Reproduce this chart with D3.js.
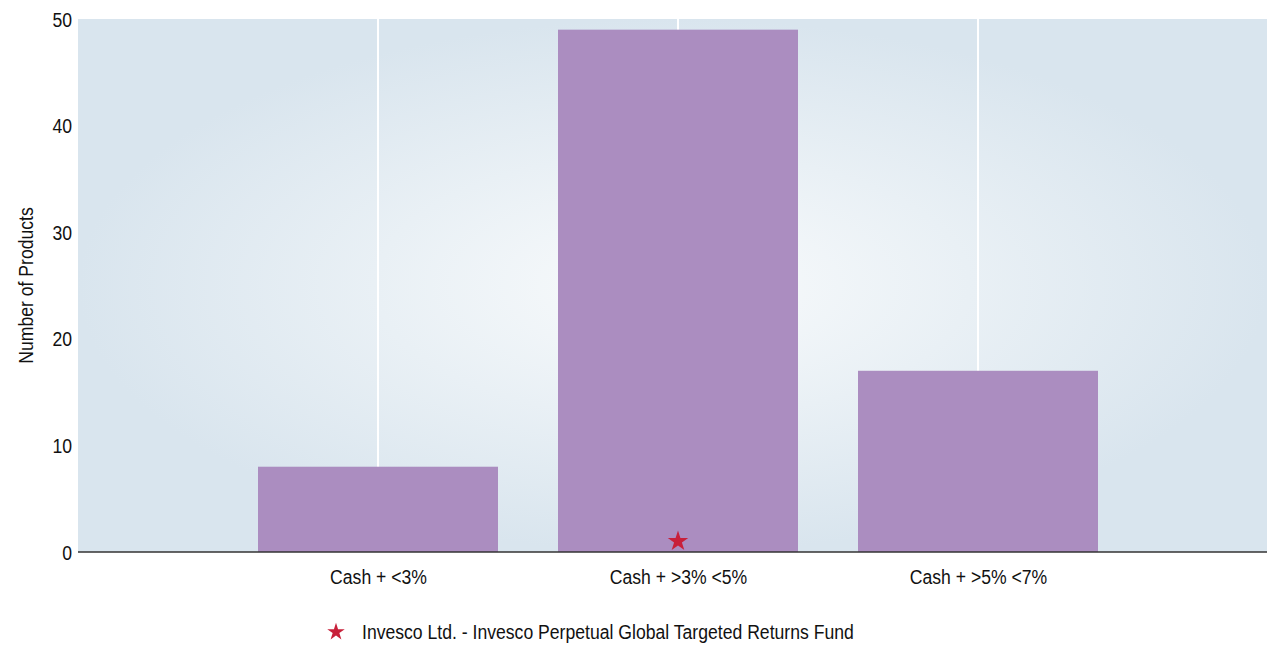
<!DOCTYPE html>
<html lang="en">
<head>
    <meta charset="utf-8">
    <script src="https://cdn.jsdelivr.net/npm/d3@7"></script>
    <style>
        body { margin: 0; background: white; }
        text {
            font-family: "Liberation Sans Narrow", "Arial Narrow", "Liberation Sans", sans-serif;
            fill: #111;
        }
        .tick text { font-size: 20px; }
        .axis-title { font-size: 20px; }
        .legend text { font-size: 20px; }
    </style>
</head>
<body>
<script>
    const categories = ['Cash + <3%', 'Cash + >3% <5%', 'Cash + >5% <7%'];
    const counts = [8, 49, 17];
    const fundName = 'Invesco Ltd. - Invesco Perpetual Global Targeted Returns Fund';
    const fundCategory = 1;   // index of the bar the star sits in
    const fundValue = 1;
    const yTicks = [0, 10, 20, 30, 40, 50];

    const width = 1267, height = 648;
    const margin = {left: 78, top: 19, right: 0, bottom: 96};

    const svg = d3.select('body').append('svg')
        .attr('width', width).attr('height', height);

    // positions 1..3 on a 0..4 axis, plot runs a bit past the right edge
    const x = d3.scaleLinear().domain([0, 4]).range([margin.left, margin.left + 1200]);
    const y = d3.scaleLinear().domain([0, 50]).range([height - margin.bottom, margin.top]);

    const defs = svg.append('defs');
    const grad = defs.append('radialGradient').attr('id', 'bg')
        .attr('cx', '50%').attr('cy', '50%').attr('r', '50%');
    grad.append('stop').attr('offset', '0%').attr('stop-color', '#f9fbfc');
    grad.append('stop').attr('offset', '100%').attr('stop-color', '#d9e5ee');

    svg.append('rect')
        .attr('x', margin.left).attr('y', margin.top)
        .attr('width', width - margin.left)
        .attr('height', y(0) - margin.top)
        .attr('fill', 'url(#bg)');

    // vertical grid lines at the category centres
    svg.append('g').selectAll('line')
        .data(categories)
        .enter().append('line')
        .attr('x1', (d, i) => x(i + 1)).attr('x2', (d, i) => x(i + 1))
        .attr('y1', margin.top).attr('y2', y(0))
        .attr('stroke', 'white').attr('stroke-width', 2);

    const barW = x(0.8) - x(0);
    svg.append('g').selectAll('rect')
        .data(counts)
        .enter().append('rect')
        .attr('x', (d, i) => x(i + 1) - barW / 2)
        .attr('y', d => y(d))
        .attr('width', barW)
        .attr('height', d => y(0) - y(d))
        .attr('fill', '#ab8dc0');

    // baseline
    svg.append('line')
        .attr('x1', margin.left).attr('x2', width)
        .attr('y1', y(0)).attr('y2', y(0))
        .attr('stroke', '#333').attr('stroke-width', 1.5);

    // y axis (labels only)
    const yAxis = svg.append('g')
        .attr('transform', 'translate(' + margin.left + ',0)')
        .call(d3.axisLeft(y).tickValues(yTicks).tickSize(0).tickPadding(6));
    yAxis.select('.domain').remove();
    yAxis.selectAll('text').attr('dy', '0.35em');

    // x labels
    const xAxis = svg.append('g')
        .attr('transform', 'translate(0,' + y(0) + ')')
        .call(d3.axisBottom(x).tickValues([1, 2, 3])
            .tickFormat(d => categories[d - 1]).tickSize(0).tickPadding(18));
    xAxis.select('.domain').remove();

    svg.append('text')
        .attr('class', 'axis-title')
        .attr('transform', 'translate(33,' + ((margin.top + y(0)) / 2) + ') rotate(-90)')
        .attr('text-anchor', 'middle')
        .text('Number of Products');

    const star = d3.symbol().type(d3.symbolStar);

    svg.append('path')
        .attr('d', star.size(130)())
        .attr('transform', 'translate(' + x(fundCategory + 1) + ',' + y(fundValue) + ')')
        .attr('fill', '#c8203a');

    const legend = svg.append('g').attr('class', 'legend')
        .attr('transform', 'translate(336,632)');
    legend.append('path')
        .attr('d', star.size(95)())
        .attr('fill', '#c8203a');
    legend.append('text')
        .attr('x', 26).attr('dy', '0.35em')
        .text(fundName);

    // no narrow font installed: squeeze the text to look condensed
    svg.selectAll('text').each(function () {
        const len = this.getComputedTextLength();
        d3.select(this).attr('textLength', len * 0.88).attr('lengthAdjust', 'spacingAndGlyphs');
    });
</script>
</body>
</html>
